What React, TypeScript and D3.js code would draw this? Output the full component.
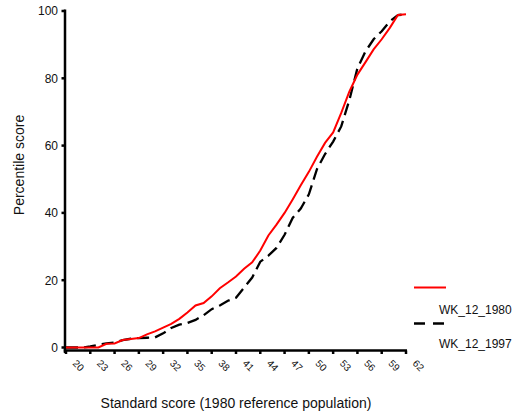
import React from "react";
import * as d3 from "d3";

// Standard scores (x) and cumulative percentile for each cohort
const scores = [20, 21, 22, 23, 24, 25, 26, 27, 28, 29, 30, 31, 32, 33, 34, 35, 36, 37, 38, 39, 40, 41, 42, 43, 44, 45, 46, 47, 48, 49, 50, 51, 52, 53, 54, 55, 56, 57, 58, 59, 60, 61, 62];
const wk1980 = [0, 0, 0, 0, 0, 1.1, 1.2, 2.2, 2.5, 2.8, 3.9, 4.8, 5.9, 7.0, 8.5, 10.4, 12.5, 13.2, 15.2, 17.6, 19.3, 21.1, 23.4, 25.3, 28.8, 33.3, 36.5, 40.0, 44.0, 48.2, 52.2, 56.7, 60.8, 63.9, 69.7, 76.0, 81.1, 84.8, 88.6, 91.6, 95.0, 98.8, 99];
const wk1997 = [0, 0, 0, 0.3, 0.8, 1.2, 1.5, 2.2, 2.6, 2.8, 2.9, 3.0, 4.2, 5.8, 6.8, 7.3, 8.2, 9.6, 11.4, 12.5, 13.9, 14.8, 17.8, 20.8, 25.5, 27.3, 29.6, 33.5, 38.5, 41.3, 45.5, 53.0, 57.5, 61.2, 65.7, 73.5, 83.0, 88.0, 91.6, 94.0, 96.9, 98.8, 99];
const xTicks = [20, 23, 26, 29, 32, 35, 38, 41, 44, 47, 50, 53, 56, 59, 62];
const yTicks = [0, 20, 40, 60, 80, 100];
const seriesNames = ["WK_12_1980", "WK_12_1997"];

const W = 516;
const H = 414;
const FONT = "'Liberation Sans', Arial, Helvetica, sans-serif";

export default function App() {
  const x = d3.scaleLinear().domain([20, 62]).range([66, 406]);
  const y = d3.scaleLinear().domain([0, 100]).range([347.5, 11]);

  const line = d3
    .line<[number, number]>()
    .x((d) => x(d[0]))
    .y((d) => y(d[1]));

  const red = line(scores.map((s, i) => [s, wk1980[i]] as [number, number])) || "";
  const black = line(scores.map((s, i) => [s, wk1997[i]] as [number, number])) || "";

  const axisX = 65;
  const axisY = 350.5;

  return (
    <svg
      width={W}
      height={H}
      viewBox={`0 0 ${W} ${H}`}
      style={{ position: "absolute", left: 0, top: 0, background: "#fff" }}
      fontFamily={FONT}
    >
      <rect x={0} y={0} width={W} height={H} fill="#fff" />

      {/* y axis */}
      <line x1={axisX} x2={axisX} y1={9.5} y2={353} stroke="#000" strokeWidth={2.5} />
      {yTicks.map((t) => (
        <g key={`y${t}`}>
          <line x1={axisX - 3.5} x2={axisX} y1={y(t)} y2={y(t)} stroke="#000" strokeWidth={2.5} />
          <text x={58} y={y(t)} dy="0.36em" textAnchor="end" fontSize={12} fill="#111">
            {t}
          </text>
        </g>
      ))}

      {/* x axis */}
      <line x1={axisX - 1.25} x2={x(62) + 1} y1={axisY} y2={axisY} stroke="#000" strokeWidth={2.5} />
      {xTicks.map((t) => (
        <g key={`x${t}`}>
          <line x1={x(t)} x2={x(t)} y1={axisY} y2={axisY + 3.5} stroke="#000" strokeWidth={2.5} />
          <text
            transform={`translate(${x(t) + 6},${364}) rotate(45)`}
            fontSize={10}
            fill="#111"
          >
            {t}
          </text>
        </g>
      ))}

      {/* series */}
      <path d={black} fill="none" stroke="#000" strokeWidth={2.3} strokeDasharray="12,6" />
      <path d={red} fill="none" stroke="#ff0000" strokeWidth={2} />

      {/* axis titles */}
      <text
        transform={`translate(24,165) rotate(-90)`}
        textAnchor="middle"
        fontSize={14}
        fill="#111"
      >
        Percentile score
      </text>
      <text x={236} y={408} textAnchor="middle" fontSize={14} fill="#111">
        Standard score (1980 reference population)
      </text>

      {/* legend */}
      <line x1={414} x2={446} y1={287.5} y2={287.5} stroke="#ff0000" strokeWidth={2} />
      <text x={439} y={314} fontSize={12} fill="#111">
        {seriesNames[0]}
      </text>
      <line x1={414} x2={446} y1={323.5} y2={323.5} stroke="#000" strokeWidth={2.3} strokeDasharray="11,8" />
      <text x={439} y={348} fontSize={12} fill="#111">
        {seriesNames[1]}
      </text>
    </svg>
  );
}
